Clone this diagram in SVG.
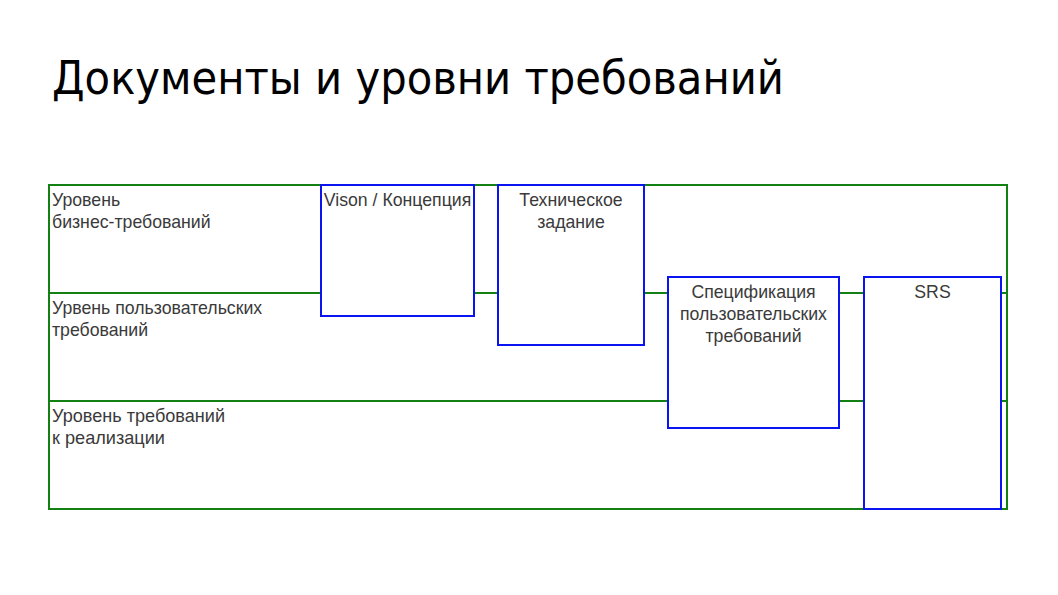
<svg xmlns="http://www.w3.org/2000/svg" width="1058" height="595" viewBox="0 0 1058 595">
<style>
.lane{fill:none;stroke:#128012;stroke-width:2}
.doc{fill:#fff;stroke:#0a14f0;stroke-width:2}
.t{font-family:"Liberation Sans",Arial,sans-serif;font-size:17.7px;fill:#3a3a3a}
.c{text-anchor:middle}
.title{font-family:"DejaVu Sans",Verdana,sans-serif;font-size:46px;fill:#000}
</style>
<rect width="1058" height="595" fill="#fff"/>
<text class="title" x="52" y="94" textLength="732" lengthAdjust="spacingAndGlyphs">Документы и уровни требований</text>
<g id="lanes">
<rect class="lane" x="49" y="185" width="958" height="324"/>
<line class="lane" x1="49" y1="293" x2="1007" y2="293"/>
<line class="lane" x1="49" y1="401" x2="1007" y2="401"/>
</g>
<g id="lane-business">
<text class="t" x="52" y="206">Уровень</text>
<text class="t" x="52" y="228">бизнес-требований</text>
</g>
<g id="lane-user">
<text class="t" x="52" y="314">Урвень пользовательских</text>
<text class="t" x="52" y="336">требований</text>
</g>
<g id="lane-impl">
<text class="t" x="52" y="422" textLength="173" lengthAdjust="spacingAndGlyphs">Уровень требований</text>
<text class="t" x="52" y="444" textLength="113" lengthAdjust="spacingAndGlyphs">к реализации</text>
</g>
<g id="vision">
<rect class="doc" x="321" y="185" width="153" height="131"/>
<text class="t c" x="397.5" y="206">Vison / Концепция</text>
</g>
<g id="tz">
<rect class="doc" x="498" y="185" width="146" height="160"/>
<text class="t c" x="571" y="206">Техническое</text>
<text class="t c" x="571" y="228">задание</text>
</g>
<g id="user-spec">
<rect class="doc" x="668" y="277" width="171" height="151"/>
<text class="t c" x="753.5" y="298">Спецификация</text>
<text class="t c" x="753.5" y="320">пользовательских</text>
<text class="t c" x="753.5" y="342">требований</text>
</g>
<g id="srs">
<rect class="doc" x="864" y="277" width="137" height="232"/>
<text class="t c" x="932.5" y="298">SRS</text>
</g>
</svg>
